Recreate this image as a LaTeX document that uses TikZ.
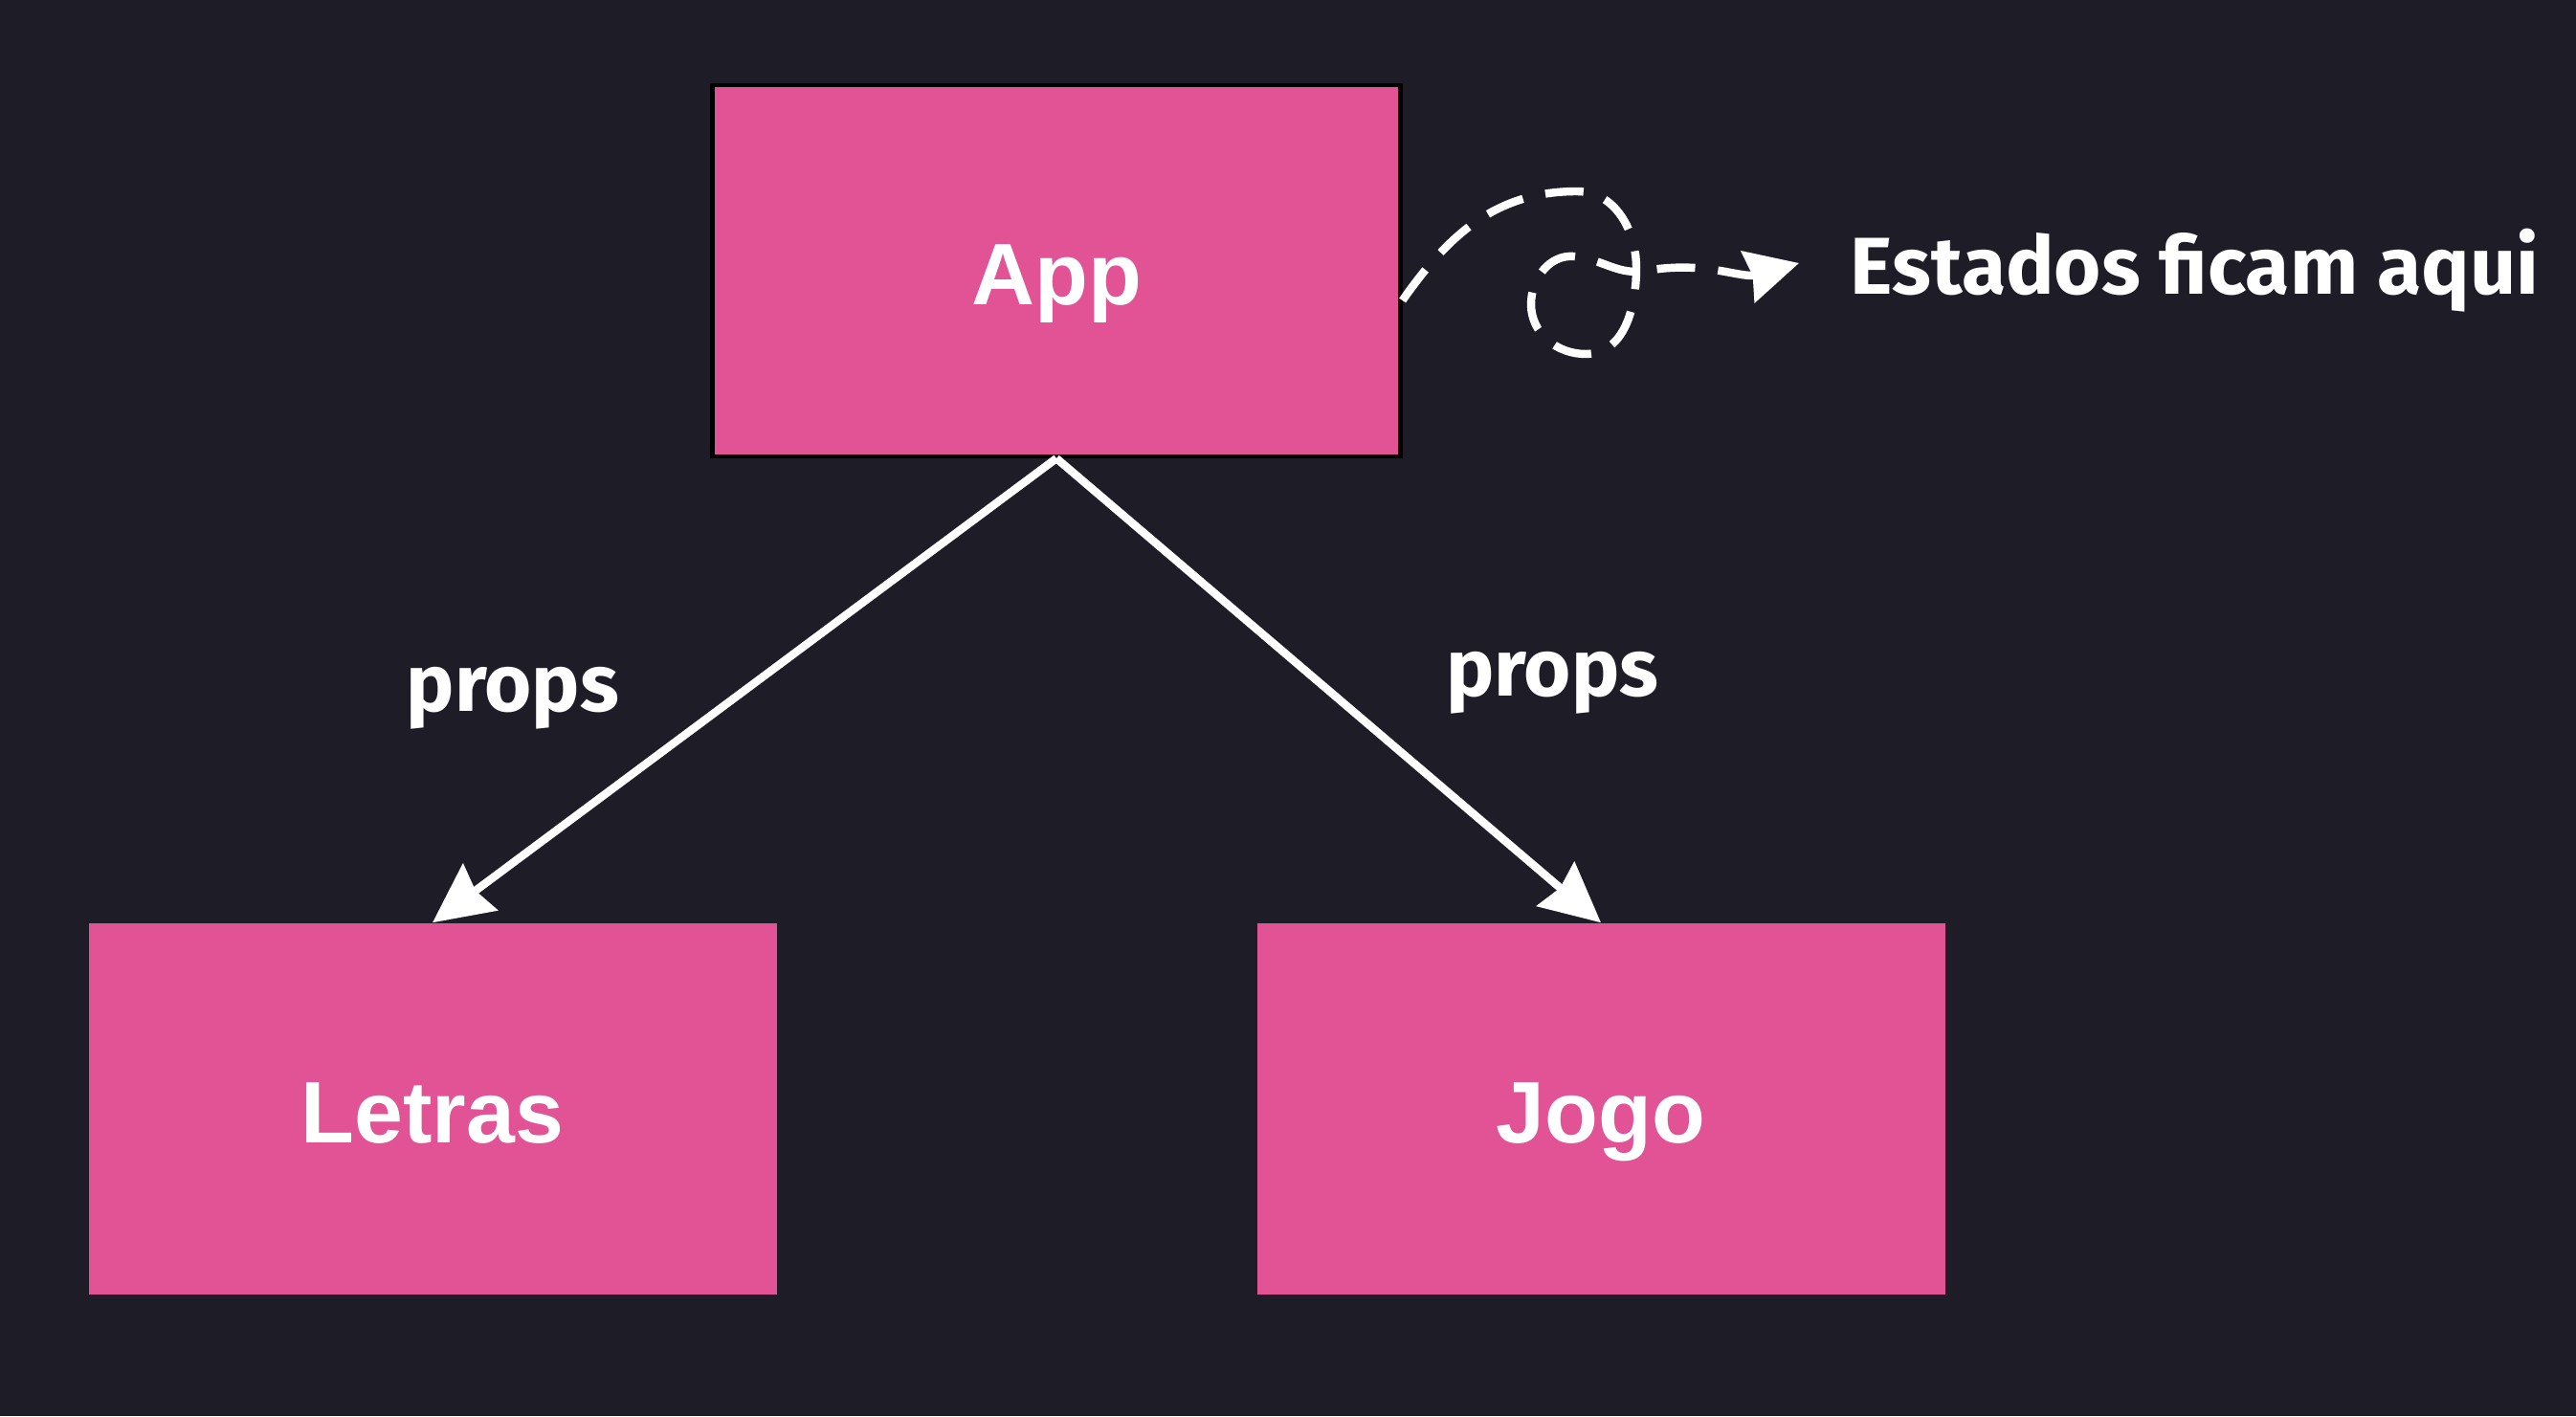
\documentclass[tikz,border=0pt]{standalone}
\usepackage{fontspec}
\setmainfont{Liberation Sans}
\newfontfamily\notefont{Fira Sans}
\usetikzlibrary{arrows.meta}
\definecolor{bgdark}{RGB}{30,28,38}
\definecolor{compink}{RGB}{226,83,149}

\begin{document}
\begin{tikzpicture}[x=1cm,y=1cm,
	comp/.style={fill=compink, minimum width=7.19cm, minimum height=3.88cm, inner sep=0pt, text=white, text height=0.72cm, text depth=0cm, font=\fontsize{26}{30}\selectfont\bfseries},
	propsarrow/.style={draw=white, line width=2.4pt, -{Stealth[length=0.62cm,width=0.6cm,inset=0.06cm]}},
	note/.style={text=white, inner sep=0pt, font=\notefont\fontsize{24}{28}\selectfont\bfseries}]
	\useasboundingbox (0,0) rectangle (26.92,14.80);
	\fill[bgdark] (0,0) rectangle (26.92,14.80);

	% components
	\node[comp, draw=black, line width=1.2pt] (app) at (11.04,11.97) {App};
	\node[comp] (letras) at (4.52,3.21) {Letras};
	\node[comp] (jogo) at (16.73,3.21) {Jogo};

	% props passed down
	\draw[propsarrow] (app.south) -- (letras.north);
	\draw[propsarrow] (app.south) -- (jogo.north);
	\node[note] (propsL) at (5.36,7.50) {props};
	\node[note] (propsR) at (16.22,7.66) {props};

	% state note
	\node[note, anchor=west] (estados) at (19.33,11.97) {Estados ficam aqui};
	\coordinate (loopend) at (18.80,12.05);
	\draw[white, line width=2.4pt, dash pattern=on 0.4cm off 0.24cm, -{Stealth[length=0.55cm,width=0.55cm,inset=0.05cm]}]
		([yshift=-0.31cm]app.east) to[out=55,in=180] (16.48,12.80)
		to[out=0,in=90] (17.10,12.00)
		to[out=-90,in=0] (16.57,11.10)
		to[out=180,in=-90] (16.00,11.62)
		to[out=90,in=175] (16.45,12.12)
		to[out=-5,in=190] (17.20,11.97)
		to[out=10,in=195] (loopend);
\end{tikzpicture}
\end{document}
